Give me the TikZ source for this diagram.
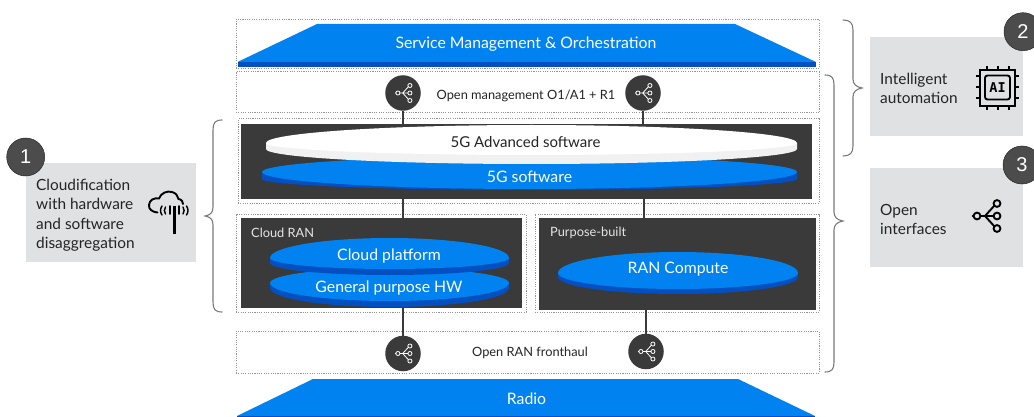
\documentclass[tikz,border=0pt]{standalone}
\usepackage{fontspec}
\setmainfont{Lato}
\newfontfamily\numfont{Liberation Sans}
\newfontfamily\chipfont{DejaVu Sans Mono}
\definecolor{eblue}{HTML}{0082F0}
\definecolor{edark}{HTML}{0450C0}
\definecolor{ebox}{HTML}{3A3A3A}
\definecolor{epanel}{HTML}{E0E1E3}
\definecolor{etext}{HTML}{242424}
\definecolor{edisc}{HTML}{F1F1F1}
\definecolor{ebrace}{HTML}{7A7A7A}
\definecolor{edot}{HTML}{949494}
\newcommand{\discshape}[9]{% xl xr mid rtop rbot h rbot2 topcol bandcol
  \pgfmathsetmacro\xc{(#1+#2)/2}\pgfmathsetmacro\kx{0.5523*(#2-#1)/2}
  \pgfmathsetmacro\ka{0.5523*#4}\pgfmathsetmacro\kb{0.5523*#5}\pgfmathsetmacro\kc{0.5523*#7}
  \pgfmathsetmacro\yl{#3+#6}
  \fill[#9] (#1,#3) -- (#1,\yl) .. controls (#1,\yl+\kc) and (\xc-\kx,\yl+#7) .. (\xc,\yl+#7)
     .. controls (\xc+\kx,\yl+#7) and (#2,\yl+\kc) .. (#2,\yl) -- (#2,#3) -- cycle;
  \fill[#8] (#1,#3) .. controls (#1,#3-\ka) and (\xc-\kx,#3-#4) .. (\xc,#3-#4)
     .. controls (\xc+\kx,#3-#4) and (#2,#3-\ka) .. (#2,#3)
     .. controls (#2,#3+\kb) and (\xc+\kx,#3+#5) .. (\xc,#3+#5)
     .. controls (\xc-\kx,#3+#5) and (#1,#3+\kb) .. (#1,#3) -- cycle;}
\tikzset{
  dotbox/.style={draw=edot,line width=1pt,dash pattern=on 1.1pt off 1.2pt,inner sep=0,outer sep=0,fill=none},
  darkbox/.style={fill=ebox,inner sep=0,outer sep=0},
  ifc/.style={circle,fill=ebox,minimum size=35.5pt,inner sep=0,outer sep=0},
  conn/.style={draw=ebox,line width=1.5pt},
  panel/.style={fill=epanel,inner sep=0,outer sep=0},
  numc/.style={circle,fill=black!70,draw=black!85,line width=.5pt,minimum size=38pt,inner sep=0,text=white,font=\numfont\fontsize{20}{20}\selectfont},
  wtext/.style={text=white,font=\fontsize{15.8}{18}\selectfont,inner sep=0},
  ktext/.style={text=etext,font=\fontsize{15}{18}\selectfont,inner sep=0},
  stext/.style={text=etext,font=\fontsize{12.8}{14}\selectfont,inner sep=0},
  ltext/.style={text=white!90!black,font=\fontsize{12.8}{14}\selectfont,inner sep=0,anchor=west},
  ptext/.style={text=etext,font=\fontsize{15.4}{19.3}\selectfont,inner sep=0,anchor=north west,align=left},
  bracestyle/.style={draw=ebrace,line width=1.1pt,line cap=round},
  pics/hubicon/.style={code={
    \draw[line width=#1,line cap=round] (-8,0) circle (3.4) (-12.5,0) -- (-11.4,0) (-4.6,0) -- (0,0) -- (8.6,0) (0,0) -- (9.4,-10.4) (0,0) -- (9.4,10.4);
    \draw[line width=#1] (12,-12.5) circle (3.4) (12,0) circle (3.4) (12,12.5) circle (3.4);
  }},
}
\begin{document}
\begin{tikzpicture}[x=1pt,y=-1pt]
\useasboundingbox (0,0) rectangle (1034,417);
\clip (0,0) rectangle (1034,417);
% dotted containers
\node[dotbox,minimum width=583pt,minimum height=49pt] (smobox) at (527.5,44) {};
\node[dotbox,minimum width=583pt,minimum height=41pt] (mgmtbox) at (527.5,92.5) {};
\node[dotbox,minimum width=581pt,minimum height=84pt] (swbox) at (528.5,161) {};
\node[dotbox,minimum width=290pt,minimum height=98pt] (crbox) at (381,263) {};
\node[dotbox,minimum width=284pt,minimum height=98pt] (pbbox) at (677,263) {};
\node[dotbox,minimum width=583pt,minimum height=42pt] (fhbox) at (527.5,352) {};
% trapezoids
\fill[eblue] (237.5,62) -- (317,24) -- (735,24) -- (816,62) -- cycle;
\fill[edark] (237.5,62) rectangle (816,67);
\node[wtext] (smo) at (526,44.5) {Service Management \& Orchestration};
\fill[eblue] (237,416) -- (313,379) -- (738,379) -- (815,416) -- cycle;
\fill[edark] (237,416) rectangle (815,417);
\node[wtext] (radio) at (526.5,399) {Radio};
% dark boxes
\node[darkbox,minimum width=571pt,minimum height=75pt] (sw) at (526.5,161.5) {};
\node[darkbox,minimum width=281pt,minimum height=90pt] (cr) at (381.5,263) {};
\node[darkbox,minimum width=277pt,minimum height=92pt] (pb) at (677.5,264) {};
% interface circles
\node[ifc] (m1) at (403,93) {};
\node[ifc] (m2) at (643,93) {};
\node[ifc] (f1) at (403,353.5) {};
\node[ifc] (f2) at (646,351.5) {};
% connectors
\draw[conn] (m1) -- (sw.north -| m1);
\draw[conn] (m2) -- (sw.north -| m2);
\draw[conn] (sw.south -| m1) -- (cr.north -| m1);
\draw[conn] ([xshift=1pt]sw.south -| m2) -- ([xshift=1pt]pb.north -| m2);
\draw[conn] (cr.south -| f1) -- (f1);
\draw[conn] (pb.south -| f2) -- (f2);
\foreach \n in {m1,m2,f1,f2}{
  \pic[draw=white,scale=.6,xshift=-.5pt] at (\n) {hubicon=.8pt};
}
% discs
\discshape{262}{797}{172}{16}{17}{7}{11}{eblue}{edark}
\discshape{266}{797}{143}{18}{12}{6}{15}{white}{edisc}
\discshape{270}{509}{283}{15}{18}{5}{19}{eblue}{edark}
\discshape{270}{509}{258}{20}{11}{5}{12}{eblue}{edark}
\discshape{558}{798}{273}{21}{16}{4}{17}{eblue}{edark}
% disc labels
\node[ktext] (adv) at (525.5,142) {5G Advanced software};
\node[wtext] (five) at (529.5,176.5) {5G software};
\node[wtext] (cp) at (389,256) {Cloud platform};
\node[wtext] (gp) at (389,288) {General purpose HW};
\node[wtext] (rc) at (678,269.5) {RAN Compute};
\node[ltext] (crl) at (251,233) {Cloud RAN};
\node[ltext] (pbl) at (550,233) {Purpose-built};
\node[stext] (om) at (526,95.5) {Open management O1/A1 + R1};
\node[stext] (fh) at (530,353) {Open RAN fronthaul};
% braces
\draw[bracestyle] (222,120) .. controls (215,120) and (213,123) .. (213,130) -- (213,207) .. controls (213,212) and (211,215) .. (205,216) .. controls (211,217) and (213,220) .. (213,225) -- (213,302) .. controls (213,309) and (215,312) .. (222,312);
\draw[bracestyle] (843,20) .. controls (850,20) and (853,23) .. (853,30) -- (853,79) .. controls (853,84) and (856,87) .. (862,88) .. controls (856,89) and (853,92) .. (853,97) -- (853,146) .. controls (853,153) and (850,156) .. (843,156);
\draw[bracestyle] (825,75) .. controls (832,75) and (834,78) .. (834,85) -- (834,212) .. controls (834,217) and (837,220) .. (843,221) .. controls (837,222) and (834,225) .. (834,230) -- (834,362) .. controls (834,369) and (832,372) .. (825,372);
% panels
\node[panel,minimum width=170pt,minimum height=99pt] (p1) at (111,212.5) {};
\node[panel,minimum width=153pt,minimum height=99pt] (p2) at (946.5,86.5) {};
\node[panel,minimum width=153pt,minimum height=99pt] (p3) at (946.5,217.5) {};
\node[numc] (n1) at (25.7,157) {1};
\node[numc] (n2) at (1023,31.7) {2};
\node[numc] (n3) at (1022,165) {3};
\node[ptext] (t1) at (36,179) {Cloudification\\with hardware\\and software\\disaggregation};
\node[ptext] (t2) at (880,73) {Intelligent\\automation};
\node[ptext] (t3) at (880,204) {Open\\interfaces};
% cloud + antenna icon
\begin{scope}[line width=1.9pt,draw=black,line cap=round]
\draw (157.5,212.5) .. controls (152,212) and (148.5,209) .. (149,205) .. controls (149.5,200) and (154,197.5) .. (159,198.5) .. controls (161,193) and (167,190.5) .. (172,192) .. controls (176,193) and (178,196) .. (178.5,199) .. controls (182,199.5) and (183,202) .. (183,204);
\draw[line cap=butt,line width=2.8pt] (174.3,205.5) -- (174.3,233.5);
\draw[line width=1.6pt] (169.7,206) -- (169.7,214) (179,206) -- (179,214);
\draw[line width=1.4pt] (165.5,207) .. controls (164,209) and (164,212) .. (165.5,214);
\draw[line width=1.4pt] (183,207) .. controls (184.5,209) and (184.5,212) .. (183,214);
\draw[line width=1.4pt] (162,206) .. controls (160,209) and (160,212) .. (162,215);
\draw[line width=1.4pt] (186.5,206) .. controls (188.5,209) and (188.5,212) .. (186.5,215);
\end{scope}
% AI chip icon
\begin{scope}[draw=black]
\draw[line width=2pt] (980,70.5) rectangle (1015,106);
\draw[line width=1.9pt,rounded corners=2.5pt] (985,75.5) rectangle (1010,99.5);
\foreach \p in {0,1,2}{
  \draw[line width=2pt] ({986.5+\p*11},66.5) -- ({986.5+\p*11},70);
  \draw[line width=2pt] ({986.5+\p*11},106.5) -- ({986.5+\p*11},110);
  \draw[line width=2pt] (976,{76.5+\p*11}) -- (979.5,{76.5+\p*11});
  \draw[line width=2pt] (1015.5,{76.5+\p*11}) -- (1019,{76.5+\p*11});
}
\end{scope}
\node[text=black,inner sep=0,font=\chipfont\bfseries\fontsize{13.5}{14}\selectfont] (ai) at (997.5,87.7) {AI};
% open interfaces icon
\pic[draw=black] at (985,216) {hubicon=1.9pt};
\end{tikzpicture}
\end{document}
